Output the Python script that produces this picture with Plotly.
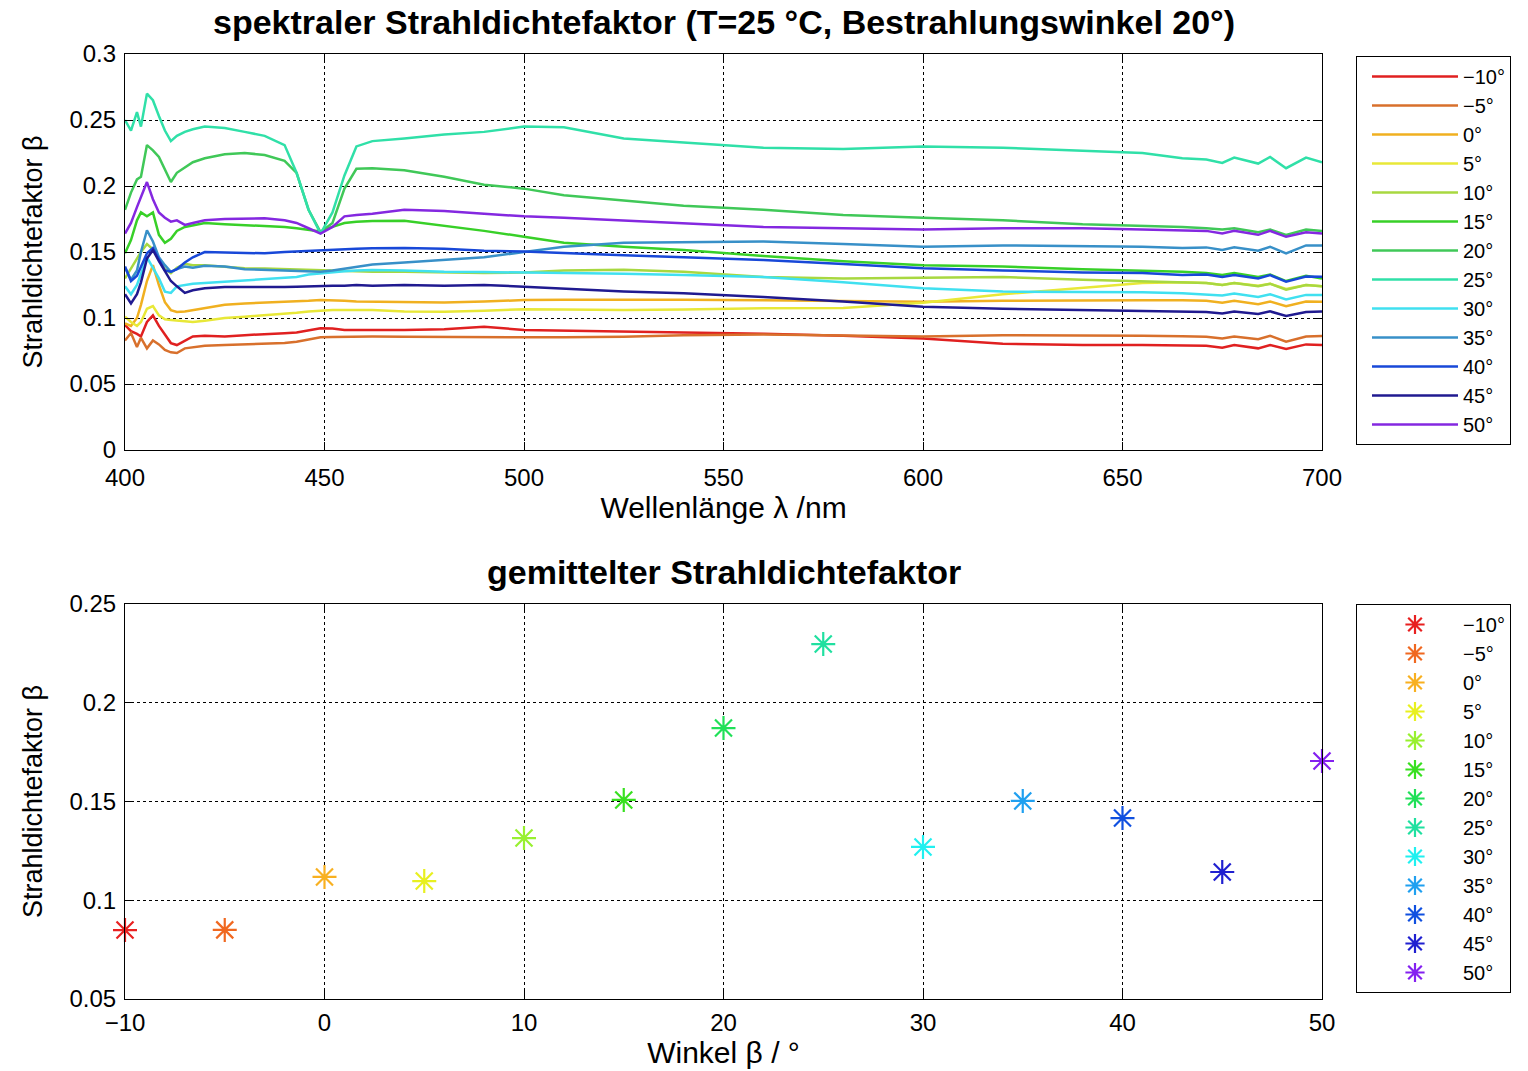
import plotly.graph_objects as go
from plotly.subplots import make_subplots

# Wavelength grid (nm) shared by all spectral curves
wavelength = [400, 401.5, 403, 404, 405.5, 407, 408.5, 410, 411.5, 413,
              415, 417, 420, 425, 430, 435, 440, 443, 446, 449,
              452, 455, 458, 462, 470, 480, 490, 500, 510, 525,
              540, 560, 580, 600, 620, 640, 655, 665, 671, 675,
              678, 684, 687, 691, 696, 700]

angle_labels = ["\u221210°", "\u22125°", "0°", "5°", "10°", "15°", "20°",
                "25°", "30°", "35°", "40°", "45°", "50°"]
angles = [-10, -5, 0, 5, 10, 15, 20, 25, 30, 35, 40, 45, 50]

beta_m10 = [0.0947, 0.090, 0.088, 0.086, 0.097, 0.102, 0.094, 0.0875, 0.081, 0.0795,
            0.083, 0.086, 0.0865, 0.086, 0.087, 0.0875, 0.0885, 0.089, 0.0905, 0.0922,
            0.092, 0.091, 0.0909, 0.0909, 0.091, 0.0915, 0.0934, 0.0909, 0.0905, 0.0896,
            0.089, 0.088, 0.0865, 0.0845, 0.0805, 0.0795, 0.0795, 0.0795, 0.079, 0.0775,
            0.0795, 0.077, 0.0795, 0.0765, 0.080, 0.0795]
beta_m5 = [0.083, 0.0886, 0.078, 0.085, 0.077, 0.083, 0.080, 0.0758, 0.074, 0.0735,
           0.077, 0.078, 0.079, 0.0795, 0.080, 0.0805, 0.081, 0.082, 0.0835, 0.0854,
           0.0856, 0.0858, 0.0859, 0.086, 0.0858, 0.0855, 0.0854, 0.0854, 0.0855, 0.0858,
           0.087, 0.0875, 0.0868, 0.0859, 0.087, 0.087, 0.0865, 0.0862, 0.0858, 0.0845,
           0.086, 0.084, 0.0865, 0.082, 0.086, 0.0864]
beta_0 = [0.096, 0.094, 0.100, 0.110, 0.128, 0.140, 0.125, 0.112, 0.106, 0.1045,
          0.105, 0.106, 0.108, 0.110, 0.111, 0.1115, 0.112, 0.1125, 0.113, 0.1136,
          0.1135, 0.113, 0.1125, 0.1124, 0.1122, 0.1118, 0.1125, 0.1136, 0.1138, 0.114,
          0.1138, 0.1135, 0.113, 0.1124, 0.113, 0.1136, 0.1135, 0.1135, 0.113, 0.1115,
          0.113, 0.1105, 0.1125, 0.109, 0.1125, 0.1124]
beta_5 = [0.101, 0.097, 0.094, 0.097, 0.107, 0.109, 0.102, 0.099, 0.0985, 0.098,
          0.0975, 0.097, 0.098, 0.100, 0.101, 0.102, 0.1035, 0.104, 0.105, 0.1056,
          0.106, 0.106, 0.106, 0.106, 0.105, 0.1048, 0.1055, 0.1066, 0.1065, 0.106,
          0.1065, 0.1073, 0.1075, 0.1115, 0.118, 0.123, 0.1265, 0.127, 0.1265, 0.125,
          0.1265, 0.1245, 0.126, 0.122, 0.125, 0.124]
beta_10 = [0.130, 0.137, 0.145, 0.150, 0.156, 0.152, 0.145, 0.137, 0.134, 0.138,
           0.141, 0.140, 0.140, 0.139, 0.1376, 0.1375, 0.137, 0.137, 0.1365, 0.136,
           0.136, 0.1358, 0.1355, 0.135, 0.135, 0.1345, 0.134, 0.1345, 0.136, 0.1365,
           0.135, 0.131, 0.130, 0.1305, 0.131, 0.129, 0.128, 0.127, 0.1265, 0.125,
           0.1265, 0.124, 0.126, 0.1215, 0.125, 0.124]
beta_15 = [0.149, 0.159, 0.174, 0.180, 0.177, 0.180, 0.163, 0.157, 0.160, 0.166,
           0.169, 0.170, 0.172, 0.171, 0.1705, 0.170, 0.169, 0.168, 0.167, 0.1655,
           0.169, 0.172, 0.173, 0.1735, 0.1737, 0.170, 0.166, 0.1616, 0.157, 0.154,
           0.1515, 0.147, 0.143, 0.140, 0.139, 0.137, 0.136, 0.135, 0.134, 0.1325,
           0.134, 0.131, 0.133, 0.128, 0.132, 0.130]
beta_20 = [0.182, 0.195, 0.205, 0.207, 0.231, 0.227, 0.222, 0.212, 0.203, 0.210,
           0.214, 0.218, 0.221, 0.224, 0.225, 0.2235, 0.219, 0.210, 0.182, 0.165,
           0.172, 0.198, 0.213, 0.2135, 0.212, 0.207, 0.201, 0.198, 0.193, 0.189,
           0.185, 0.182, 0.178, 0.176, 0.174, 0.171, 0.170, 0.169, 0.168, 0.167,
           0.168, 0.165, 0.167, 0.163, 0.167, 0.166]
beta_25 = [0.250, 0.242, 0.256, 0.245, 0.270, 0.265, 0.253, 0.242, 0.234, 0.238,
           0.241, 0.243, 0.245, 0.244, 0.241, 0.238, 0.231, 0.210, 0.182, 0.164,
           0.180, 0.208, 0.230, 0.234, 0.236, 0.239, 0.241, 0.245, 0.2445, 0.236,
           0.233, 0.229, 0.228, 0.230, 0.229, 0.227, 0.225, 0.221, 0.220, 0.2175,
           0.2215, 0.217, 0.222, 0.2135, 0.2215, 0.218]
beta_30 = [0.124, 0.118, 0.125, 0.134, 0.146, 0.138, 0.130, 0.120, 0.119, 0.124,
           0.125, 0.126, 0.1265, 0.1275, 0.128, 0.1295, 0.1305, 0.131, 0.133, 0.134,
           0.135, 0.1355, 0.136, 0.1364, 0.136, 0.135, 0.1348, 0.1345, 0.134, 0.1335,
           0.1326, 0.131, 0.127, 0.1225, 0.120, 0.120, 0.1195, 0.1187, 0.118, 0.117,
           0.1185, 0.116, 0.118, 0.114, 0.1175, 0.1174]
beta_35 = [0.138, 0.129, 0.136, 0.150, 0.1665, 0.158, 0.146, 0.140, 0.135, 0.137,
           0.139, 0.138, 0.1395, 0.139, 0.137, 0.1365, 0.136, 0.1355, 0.135, 0.135,
           0.136, 0.1375, 0.139, 0.1405, 0.142, 0.144, 0.146, 0.150, 0.154, 0.157,
           0.1575, 0.158, 0.156, 0.154, 0.155, 0.1545, 0.154, 0.153, 0.1535, 0.1515,
           0.1535, 0.151, 0.154, 0.149, 0.155, 0.155]
beta_40 = [0.139, 0.128, 0.132, 0.139, 0.149, 0.153, 0.145, 0.136, 0.135, 0.137,
           0.142, 0.146, 0.150, 0.1495, 0.149, 0.149, 0.150, 0.1505, 0.151, 0.1515,
           0.152, 0.152, 0.1525, 0.1528, 0.153, 0.1525, 0.151, 0.1503, 0.149, 0.1475,
           0.146, 0.144, 0.141, 0.1376, 0.136, 0.1345, 0.134, 0.1326, 0.133, 0.131,
           0.1325, 0.130, 0.1325, 0.1275, 0.1315, 0.1313]
beta_45 = [0.118, 0.111, 0.118, 0.127, 0.145, 0.1515, 0.143, 0.135, 0.128, 0.124,
           0.119, 0.121, 0.1225, 0.1235, 0.1235, 0.123, 0.1235, 0.1237, 0.124, 0.1245,
           0.1245, 0.1245, 0.125, 0.1245, 0.125, 0.1245, 0.125, 0.1237, 0.122, 0.120,
           0.1187, 0.116, 0.1125, 0.1086, 0.107, 0.106, 0.1055, 0.105, 0.1045, 0.1035,
           0.105, 0.103, 0.105, 0.1015, 0.1045, 0.105]
beta_50 = [0.164, 0.172, 0.184, 0.192, 0.203, 0.190, 0.180, 0.176, 0.173, 0.174,
           0.1705, 0.172, 0.174, 0.175, 0.175, 0.1755, 0.174, 0.172, 0.168, 0.164,
           0.169, 0.177, 0.178, 0.179, 0.182, 0.181, 0.179, 0.177, 0.176, 0.174,
           0.172, 0.169, 0.168, 0.167, 0.168, 0.168, 0.167, 0.1665, 0.166, 0.164,
           0.166, 0.163, 0.166, 0.1615, 0.165, 0.164]

spectra = [beta_m10, beta_m5, beta_0, beta_5, beta_10, beta_15, beta_20,
           beta_25, beta_30, beta_35, beta_40, beta_45, beta_50]

# Spectrally averaged radiance factor per viewing angle
beta_mean = [0.0849, 0.0850, 0.1118, 0.1097, 0.1315, 0.1508, 0.1872,
             0.2297, 0.1270, 0.1503, 0.1416, 0.1143, 0.1705]

line_colors = ["#e02020", "#d8702c", "#f0b020", "#e8e838", "#a8d840", "#38d028", "#40c858",
               "#30e0a8", "#40e0f0", "#3890c8", "#1848d8", "#201a90", "#8428e0"]
star_colors = ["#e82020", "#f06820", "#f8b020", "#e8f020", "#98f030", "#38e020", "#20e058",
               "#20e0a0", "#20f0f0", "#20a0f0", "#1050e0", "#2020d0", "#8420f0"]

FONT = "Liberation Sans, Arial, sans-serif"

fig = make_subplots(rows=2, cols=1)

for lab, y, c in zip(angle_labels, spectra, line_colors):
    fig.add_trace(go.Scatter(x=wavelength, y=y, mode="lines", name=lab,
                             line=dict(color=c, width=2.5), legend="legend"),
                  row=1, col=1)

for lab, a, m, c in zip(angle_labels, angles, beta_mean, star_colors):
    fig.add_trace(go.Scatter(x=[a], y=[m], mode="markers", name=lab, cliponaxis=False,
                             marker=dict(symbol="asterisk-open", size=20, color=c,
                                         line=dict(color=c, width=2.2)),
                             legend="legend2"),
                  row=2, col=1)

W, H = 1528, 1071
xdom = [125 / W, 1322 / W]
axis_common = dict(showline=True, linecolor="black", linewidth=1.2, mirror="ticks",
                   ticks="inside", ticklen=8, tickcolor="black", automargin=False,
                   showgrid=True, gridcolor="black", griddash="dot", gridwidth=1,
                   zeroline=False, tickfont=dict(family=FONT, size=24, color="black"))

fig.update_xaxes(axis_common)
fig.update_xaxes(title_font=dict(family=FONT, size=30, color="black"))
fig.update_yaxes(axis_common)
fig.update_yaxes(title_font=dict(family=FONT, size=27, color="black"),
                 ticklabelstandoff=3)

legend_common = dict(xanchor="left", yanchor="top",
                     bordercolor="black", borderwidth=1, bgcolor="white",
                     font=dict(family=FONT, size=20, color="black"),
                     itemwidth=86, tracegroupgap=0, indentation=10)

fig.update_layout(
    width=W, height=H,
    margin=dict(l=0, r=0, t=0, b=0, autoexpand=False),
    plot_bgcolor="white", paper_bgcolor="white",
    font=dict(family=FONT, color="black"),
    xaxis=dict(domain=xdom, range=[400, 700], dtick=50, ticklabelstandoff=6,
               title=dict(text="Wellenlänge λ /nm", standoff=4)),
    yaxis=dict(domain=[1 - 450 / H, 1 - 54 / H], range=[0, 0.3], dtick=0.05,
               title=dict(text="Strahldichtefaktor β", standoff=18)),
    xaxis2=dict(domain=xdom, range=[-10, 50], dtick=10, ticklabelstandoff=2,
                title=dict(text="Winkel β / °", standoff=7)),
    yaxis2=dict(domain=[1 - 999 / H, 1 - 604 / H], range=[0.05, 0.25], dtick=0.05,
                title=dict(text="Strahldichtefaktor β", standoff=18)),
    legend=dict(legend_common, x=1356 / W, y=1 - 56 / H),
    legend2=dict(legend_common, x=1356 / W, y=1 - 604 / H),
    showlegend=True,
    annotations=[
        dict(text="<b>spektraler Strahldichtefaktor (T=25 °C, Bestrahlungswinkel 20°)</b>",
             x=(xdom[0] + xdom[1]) / 2, y=1 - 22 / H, xref="paper", yref="paper",
             xanchor="center", yanchor="middle", showarrow=False,
             font=dict(family=FONT, size=34, color="black")),
        dict(text="<b>gemittelter Strahldichtefaktor</b>",
             x=(xdom[0] + xdom[1]) / 2, y=1 - 572 / H, xref="paper", yref="paper",
             xanchor="center", yanchor="middle", showarrow=False,
             font=dict(family=FONT, size=34, color="black")),
    ],
)

fig.write_html("out.html")
